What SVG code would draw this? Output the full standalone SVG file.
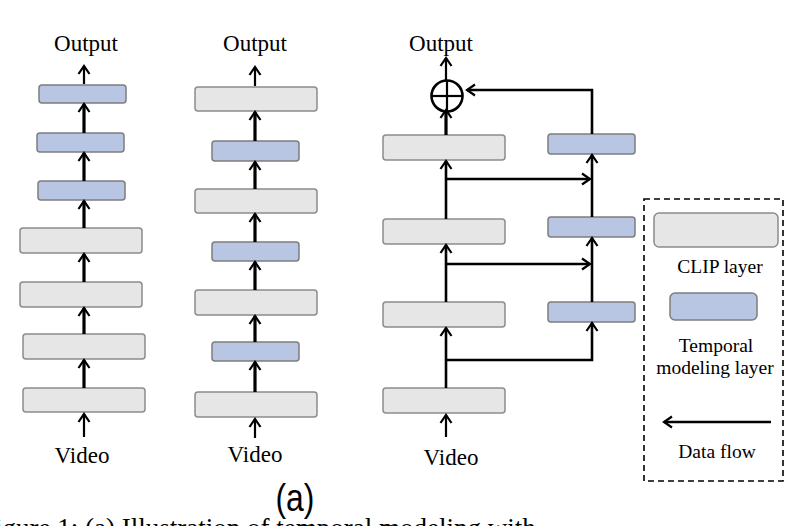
<svg xmlns="http://www.w3.org/2000/svg" width="804" height="526" viewBox="0 0 804 526">
<style>
.clip{fill:#e6e6e6;stroke:#8c8c8c;stroke-width:1.5}
.temp{fill:#b8c6e3;stroke:#7d7d7d;stroke-width:1.5}
.lbl{font-family:"Liberation Serif","Times New Roman",serif;font-size:23px;fill:#000;text-anchor:middle}
.leg{font-family:"Liberation Serif","Times New Roman",serif;font-size:19.5px;fill:#000;text-anchor:middle}
.thick{stroke:#000;stroke-width:3.2;fill:none}
.thin{stroke:#000;stroke-width:2.2;fill:none}
.mid{stroke:#000;stroke-width:2.6;fill:none}
</style>
<defs>
<marker id="ah" markerUnits="userSpaceOnUse" viewBox="-10 -7 12 14" markerWidth="12" markerHeight="14" refX="0" refY="0" orient="auto">
<path d="M-8,-5.5 L0,0 L-8,5.5" fill="none" stroke="#000" stroke-width="2.2" stroke-linejoin="miter"/>
</marker>
</defs>
<rect width="804" height="526" fill="#fff"/>

<g id="col1">
<text class="lbl" x="86" y="51">Output</text>
<rect id="c1b1" class="temp" x="39" y="85" width="87" height="18" rx="3"/>
<rect id="c1b2" class="temp" x="37" y="133" width="87" height="19" rx="3"/>
<rect id="c1b3" class="temp" x="38" y="181" width="87" height="19" rx="3"/>
<rect id="c1g1" class="clip" x="20" y="228" width="122" height="25" rx="3"/>
<rect id="c1g2" class="clip" x="20" y="282" width="122" height="25" rx="3"/>
<rect id="c1g3" class="clip" x="23" y="334" width="122" height="25" rx="3"/>
<rect id="c1g4" class="clip" x="23" y="388" width="122" height="24" rx="3"/>
<text class="lbl" x="82" y="463">Video</text>
</g>

<g id="col2">
<text class="lbl" x="255" y="51">Output</text>
<rect id="c2g1" class="clip" x="195" y="87" width="122" height="24" rx="3"/>
<rect id="c2b1" class="temp" x="212" y="141" width="87" height="20" rx="3"/>
<rect id="c2g2" class="clip" x="195" y="189" width="122" height="24" rx="3"/>
<rect id="c2b2" class="temp" x="212" y="242" width="87" height="19" rx="3"/>
<rect id="c2g3" class="clip" x="195" y="290" width="122" height="25" rx="3"/>
<rect id="c2b3" class="temp" x="212" y="342" width="87" height="19" rx="3"/>
<rect id="c2g4" class="clip" x="195" y="392" width="122" height="25" rx="3"/>
<text class="lbl" x="255" y="462">Video</text>
</g>

<g id="col3">
<text class="lbl" x="441" y="51">Output</text>
<g id="sum">
<circle cx="447" cy="96" r="15.5" fill="#fff" stroke="#000" stroke-width="2.6"/>
<line x1="431.5" y1="96" x2="462.5" y2="96" stroke="#000" stroke-width="2.2"/>
<line x1="447" y1="80.5" x2="447" y2="111.5" stroke="#000" stroke-width="2.2"/>
</g>
<rect id="c3g1" class="clip" x="383" y="135" width="122" height="25" rx="3"/>
<rect id="c3g2" class="clip" x="383" y="219" width="122" height="25" rx="3"/>
<rect id="c3g3" class="clip" x="383" y="302" width="122" height="25" rx="3"/>
<rect id="c3g4" class="clip" x="383" y="388" width="122" height="25" rx="3"/>
<rect id="c3b1" class="temp" x="548" y="134" width="87" height="20" rx="3"/>
<rect id="c3b2" class="temp" x="548" y="217" width="87" height="20" rx="3"/>
<rect id="c3b3" class="temp" x="548" y="302" width="87" height="20" rx="3"/>
<text class="lbl" x="451" y="465">Video</text>
</g>

<g id="legend">
<rect x="644" y="199" width="139" height="282" fill="none" stroke="#000" stroke-width="1.6" stroke-dasharray="6,4"/>
<rect class="clip" x="654" y="213" width="124" height="34" rx="5"/>
<text class="leg" x="720" y="273">CLIP layer</text>
<rect class="temp" x="670" y="293" width="87" height="27" rx="5"/>
<text class="leg" x="716" y="352">Temporal</text>
<text class="leg" x="715" y="374">modeling layer</text>
<line class="mid" x1="771" y1="422" x2="664" y2="422" marker-end="url(#ah)"/>
<text class="leg" x="717" y="458">Data flow</text>
</g>

<g id="connectors">
<line class="thin" x1="84" y1="84" x2="84" y2="66" marker-end="url(#ah)"/>
<line class="thick" x1="84" y1="133" x2="84" y2="104" marker-end="url(#ah)"/>
<line class="thick" x1="84" y1="181" x2="84" y2="153" marker-end="url(#ah)"/>
<line class="thick" x1="84" y1="228" x2="84" y2="201" marker-end="url(#ah)"/>
<line class="thick" x1="84" y1="282" x2="84" y2="254" marker-end="url(#ah)"/>
<line class="thick" x1="84" y1="334" x2="84" y2="308" marker-end="url(#ah)"/>
<line class="thick" x1="84" y1="388" x2="84" y2="360" marker-end="url(#ah)"/>
<line class="thin" x1="84" y1="437" x2="84" y2="414" marker-end="url(#ah)"/>
<line class="thin" x1="255" y1="86" x2="255" y2="67" marker-end="url(#ah)"/>
<line class="thick" x1="255" y1="141" x2="255" y2="112" marker-end="url(#ah)"/>
<line class="thick" x1="255" y1="189" x2="255" y2="162" marker-end="url(#ah)"/>
<line class="thick" x1="255" y1="242" x2="255" y2="214" marker-end="url(#ah)"/>
<line class="thick" x1="255" y1="290" x2="255" y2="262" marker-end="url(#ah)"/>
<line class="thick" x1="255" y1="342" x2="255" y2="316" marker-end="url(#ah)"/>
<line class="thick" x1="255" y1="392" x2="255" y2="362" marker-end="url(#ah)"/>
<line class="thin" x1="255" y1="438" x2="255" y2="419" marker-end="url(#ah)"/>
<line class="thin" x1="446" y1="80" x2="446" y2="58" marker-end="url(#ah)"/>
<line class="thick" x1="446" y1="135" x2="446" y2="110" marker-end="url(#ah)"/>
<line class="mid" x1="446" y1="219" x2="446" y2="161" marker-end="url(#ah)"/>
<line class="mid" x1="446" y1="302" x2="446" y2="245" marker-end="url(#ah)"/>
<line class="mid" x1="446" y1="388" x2="446" y2="328" marker-end="url(#ah)"/>
<line class="thin" x1="446" y1="437" x2="446" y2="415" marker-end="url(#ah)"/>
<polyline class="mid" points="592,134 592,90 467,90" marker-end="url(#ah)"/>
<line class="mid" x1="446" y1="179" x2="590" y2="179" marker-end="url(#ah)"/>
<line class="mid" x1="592" y1="217" x2="592" y2="155" marker-end="url(#ah)"/>
<line class="mid" x1="446" y1="264" x2="590" y2="264" marker-end="url(#ah)"/>
<line class="mid" x1="592" y1="302" x2="592" y2="238" marker-end="url(#ah)"/>
<polyline class="mid" points="446,360 592,360 592,323" marker-end="url(#ah)"/>
</g>

<text x="295" y="511" font-family="Liberation Sans, Arial, sans-serif" font-size="38" text-anchor="middle" transform="translate(295 0) scale(0.84 1) translate(-295 0)">(a)</text>
<text x="-20" y="537" font-family="Liberation Serif, Times New Roman, serif" font-size="27">Figure 1: (a) Illustration of temporal modeling with</text>
</svg>
